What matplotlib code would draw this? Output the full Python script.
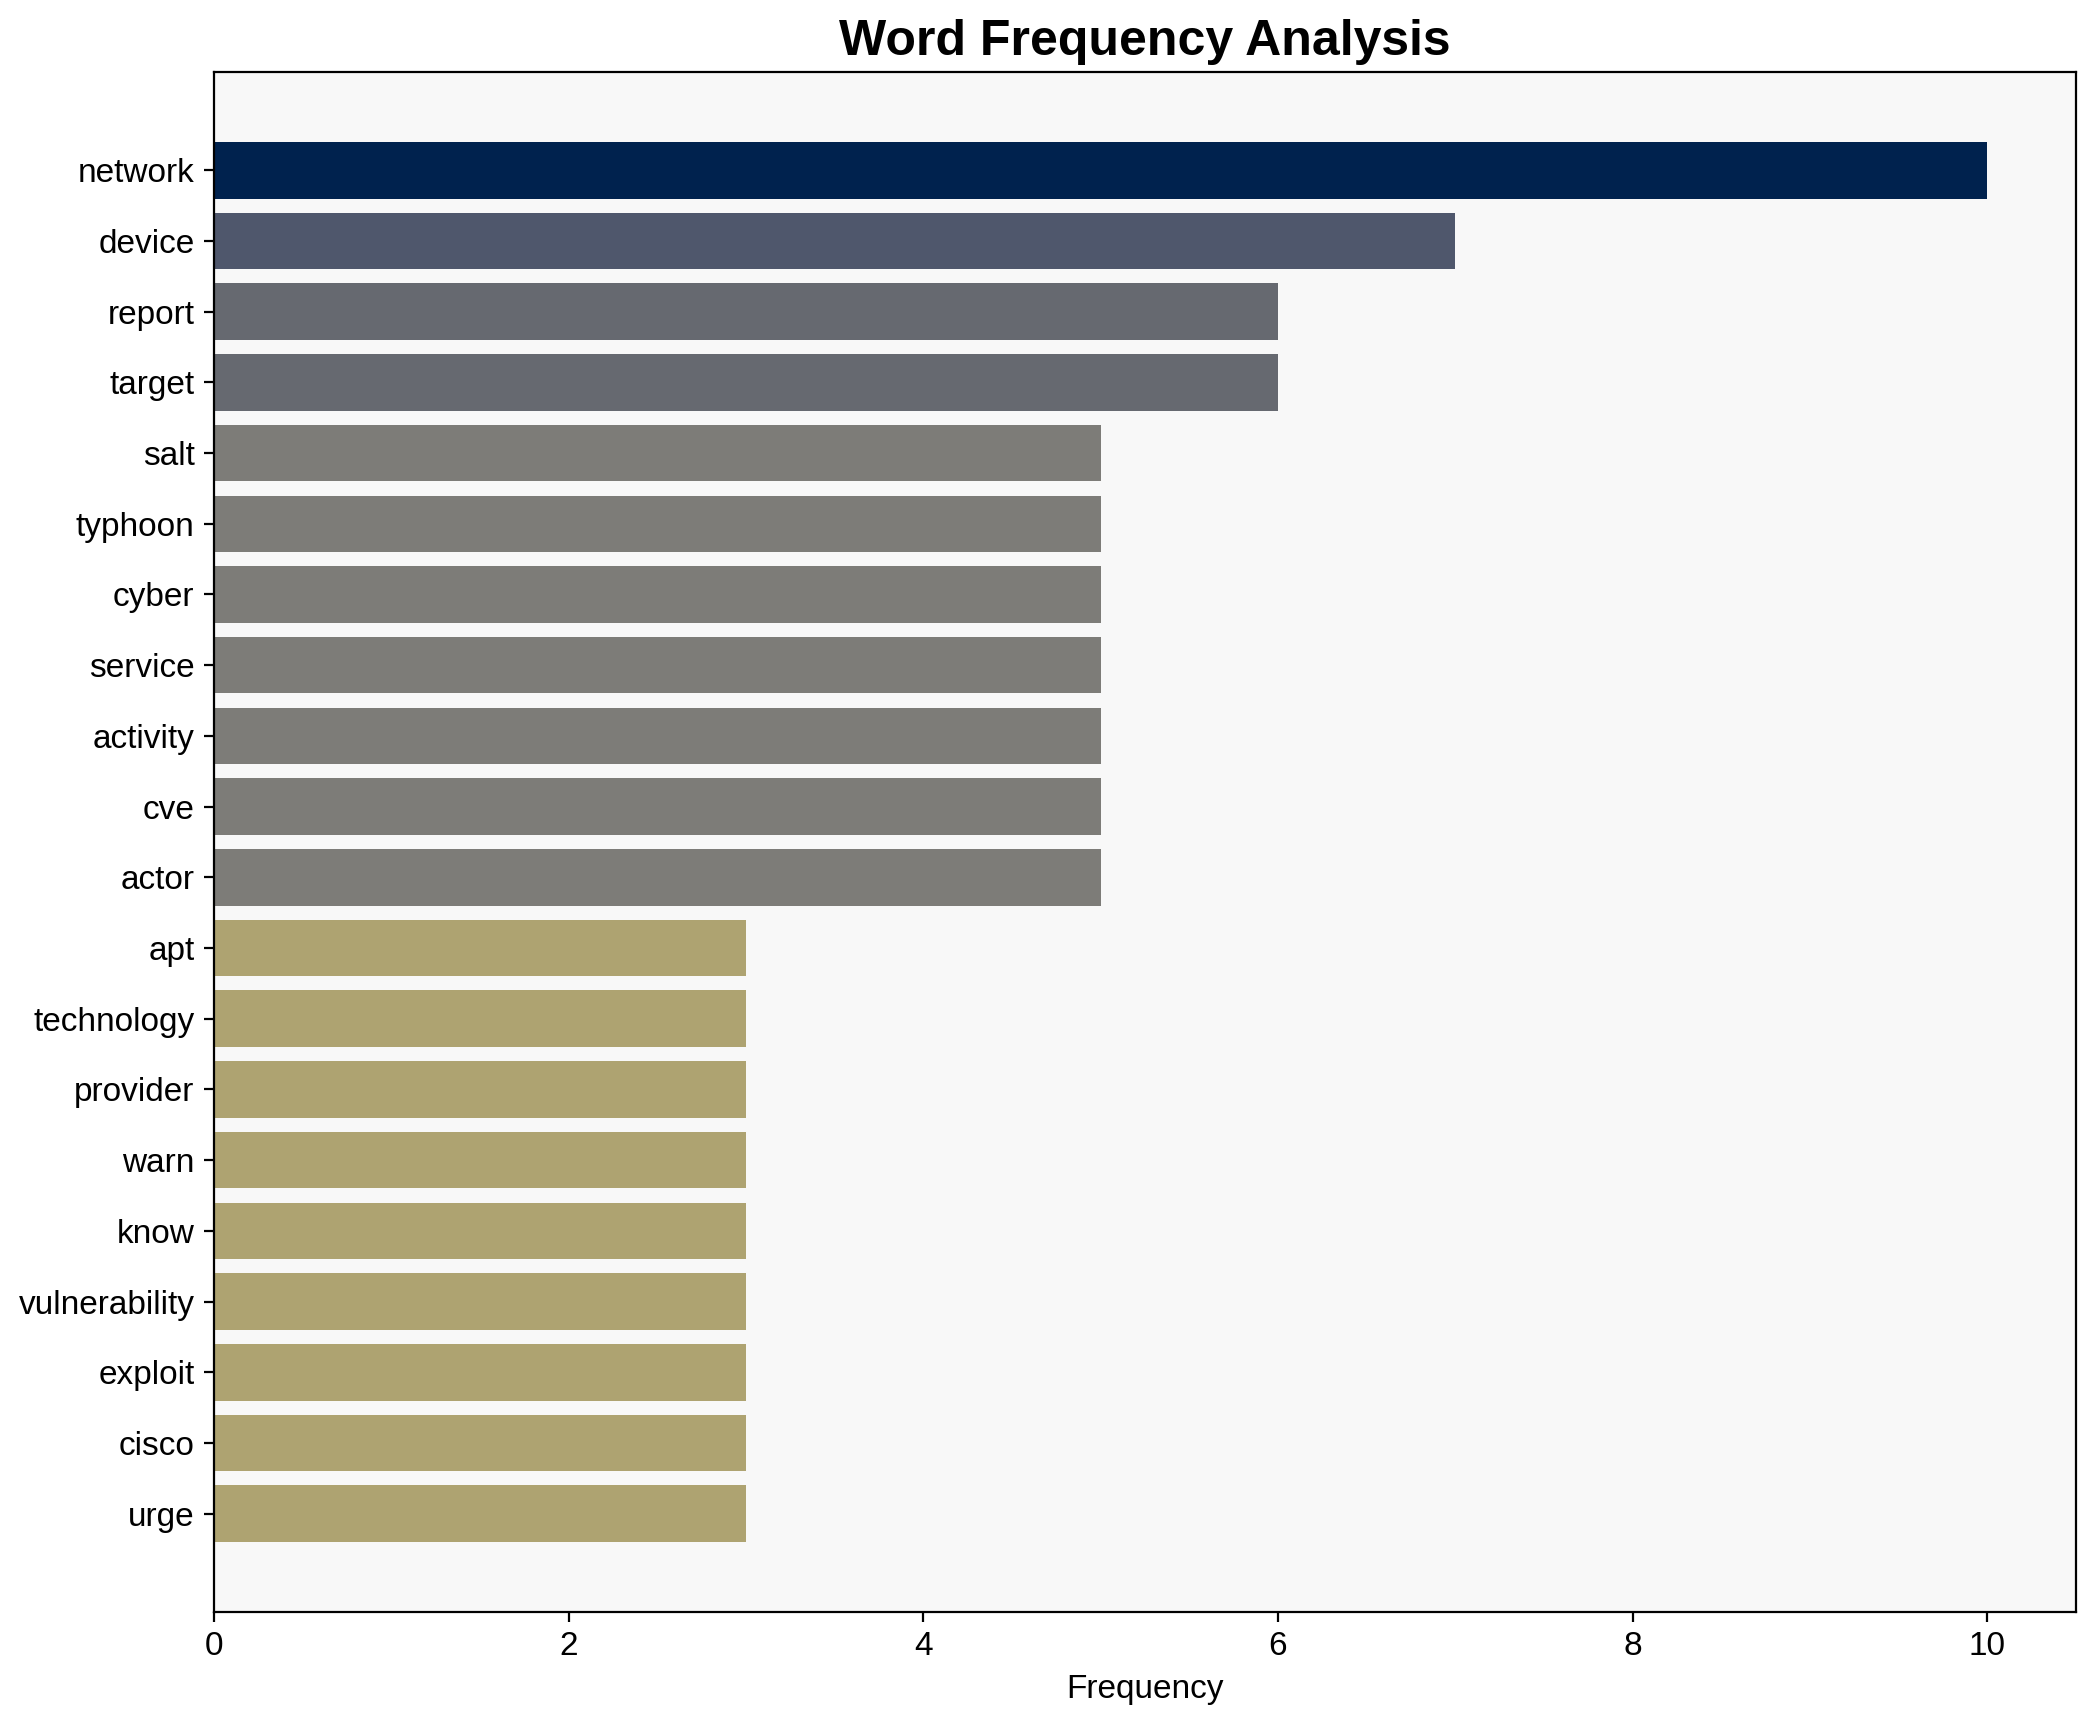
import numpy as np
import matplotlib.pyplot as plt

plt.rcParams['font.family'] = ['Liberation Sans', 'DejaVu Sans']

# word counts, most frequent first
words = ['network', 'device', 'report', 'target', 'salt', 'typhoon', 'cyber',
         'service', 'activity', 'cve', 'actor', 'apt', 'technology', 'provider',
         'warn', 'know', 'vulnerability', 'exploit', 'cisco', 'urge']
counts = [10, 7, 6, 6, 5, 5, 5, 5, 5, 5, 5, 3, 3, 3, 3, 3, 3, 3, 3, 3]

fig, ax = plt.subplots(figsize=(10.475, 8.61), dpi=200)
fig.subplots_adjust(left=0.1021, right=0.9909, top=0.9582, bottom=0.0639)

vals = np.array(counts)
# darker bars for the more frequent words
colors = plt.cm.cividis(1 - vals / vals.max())
y = np.arange(len(words))
ax.barh(y, vals, color=colors, height=0.8)

ax.set_yticks(y)
ax.set_yticklabels(words)
ax.invert_yaxis()
ax.tick_params(axis='both', labelsize=12)
ax.set_xlabel('Frequency', fontsize=12)
ax.set_title('Word Frequency Analysis', fontsize=18, fontweight='bold')
ax.set_facecolor('#f8f8f8')

plt.savefig('out.png', dpi=200)
